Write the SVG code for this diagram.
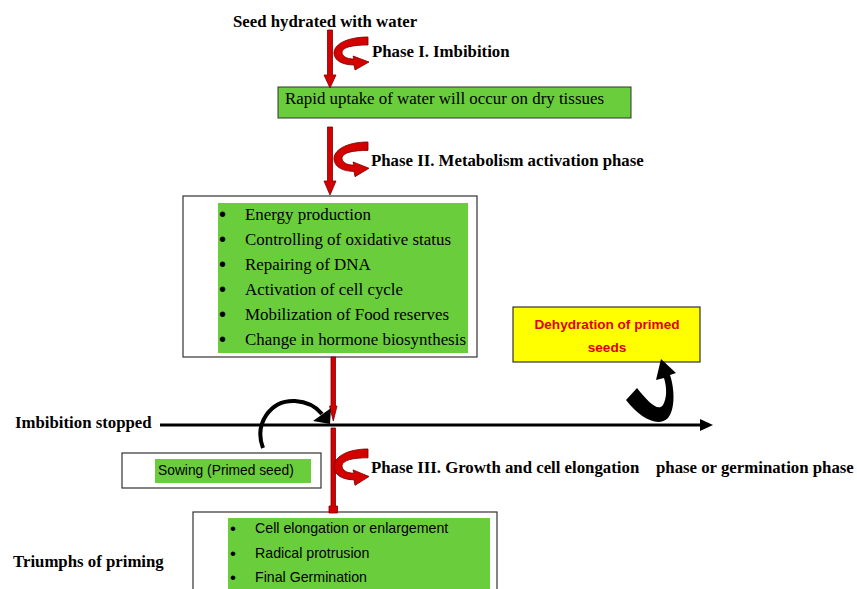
<svg xmlns="http://www.w3.org/2000/svg" width="857" height="589" viewBox="0 0 857 589">
<style>
.serif{font-family:"Liberation Serif","Times New Roman",serif;fill:#000}
.b{font-weight:bold;font-size:16.8px}
.r{font-size:16.9px}
.sans{font-family:"Liberation Sans",Arial,sans-serif;fill:#000;font-size:14.2px}
.bul{font-family:"Liberation Sans",Arial,sans-serif;fill:#000;font-size:20px}
.green{fill:#6acd3c}
.gbox{fill:#6acd3c;stroke:#333;stroke-width:1}
.wbox{fill:#fff;stroke:#333;stroke-width:1.2}
.red{fill:#d40000;stroke:#7a0000;stroke-width:0.8}
.dtxt{font-family:"Liberation Sans",Arial,sans-serif;font-weight:bold;font-size:13.6px;fill:#e00000}
</style>
<defs>
<path id="curv" d="M0,0 C-22,0 -35,8 -34,17 C-33,24 -25,28 -14,28 L-13,33 L1,25 L-15,19 L-14,22 C-22,22 -26,19 -26,15 C-25,10 -15,8 0,8 Z"/>
</defs>

<rect width="857" height="589" fill="#fff"/>

<g id="title">
<text class="serif b" x="233" y="27">Seed hydrated with water</text>
</g>

<g id="phase1">
<text class="serif b" x="372" y="57">Phase I. Imbibition</text>
</g>

<g id="box1">
<rect class="gbox" x="278" y="87" width="353" height="31"/>
<text class="serif r" x="285" y="104">Rapid uptake of water will occur on dry tissues</text>
</g>

<g id="phase2">
<text class="serif b" x="371" y="166">Phase II. Metabolism activation phase</text>
</g>

<g id="box2">
<rect class="wbox" x="183" y="196" width="294" height="161"/>
<rect class="green" x="218" y="203" width="250" height="150"/>
<g class="bul">
<text x="219" y="221">•</text>
<text x="219" y="246">•</text>
<text x="219" y="271">•</text>
<text x="219" y="296">•</text>
<text x="219" y="321">•</text>
<text x="219" y="346">•</text>
</g>
<g class="serif r">
<text x="245" y="220">Energy production</text>
<text x="245" y="245">Controlling of oxidative status</text>
<text x="245" y="270">Repairing of DNA</text>
<text x="245" y="295">Activation of cell cycle</text>
<text x="245" y="320">Mobilization of Food reserves</text>
<text x="245" y="345">Change in hormone biosynthesis</text>
</g>
</g>

<g id="dehydration">
<rect x="513" y="307" width="187" height="55" fill="#ffff00" stroke="#333" stroke-width="1.2"/>
<text class="dtxt" x="607" y="329" text-anchor="middle">Dehydration of primed</text>
<text class="dtxt" x="607" y="352" text-anchor="middle">seeds</text>
</g>

<g id="imbibition-stopped">
<text class="serif b" x="15" y="428">Imbibition stopped</text>
</g>

<g id="sowing">
<rect class="wbox" x="122" y="453" width="199" height="35"/>
<rect class="green" x="155" y="459" width="156" height="24"/>
<text class="sans" style="font-size:13.8px" x="158" y="475">Sowing (Primed seed)</text>
</g>

<g id="phase3">
<text class="serif b" x="371" y="473">Phase III. Growth and cell elongation</text>
<text class="serif b" x="656" y="473">phase or germination phase</text>
</g>

<g id="triumphs">
<text class="serif b" x="13" y="567">Triumphs of priming</text>
</g>

<g id="box3">
<rect class="wbox" x="193" y="512" width="304" height="80"/>
<rect class="green" x="228" y="518" width="262" height="74"/>
<g class="bul" style="font-size:17px">
<text x="230" y="534">•</text>
<text x="230" y="559">•</text>
<text x="230" y="583">•</text>
</g>
<g class="sans">
<text x="255" y="533">Cell elongation or enlargement</text>
<text x="255" y="558">Radical protrusion</text>
<text x="255" y="582">Final Germination</text>
</g>
</g>

<g id="connectors">
<path class="red" d="M327.5,30 L332.5,30 L332.5,75 L336,75 L330,88 L324,75 L327.5,75 Z"/>
<use href="#curv" class="red" transform="translate(368,37)"/>
<path class="red" d="M327.5,127 L332.5,127 L332.5,181 L336,181 L330,195 L324,181 L327.5,181 Z"/>
<use href="#curv" class="red" transform="translate(368,142) scale(1,1.05)"/>
<path class="red" d="M331,357 L335.5,357 L335.5,406 L337,406 L333.3,421 L329.5,406 L331,406 Z"/>
<path class="red" d="M331,428 L335.5,428 L335.5,506 L337.5,506 L337.5,513 L329,513 L329,506 L331,506 Z"/>
<use href="#curv" class="red" transform="translate(368,449) scale(1,1.1)"/>
<line x1="160" y1="425" x2="702" y2="425" stroke="#000" stroke-width="3"/>
<path d="M700,419 L713,425 L700,431 Z" fill="#000"/>
<path d="M263,448 C254,424 270,400 295,401 C310,402 318,409 322,414" fill="none" stroke="#000" stroke-width="4"/>
<path d="M313,421 L331,408 L330,424 Z" fill="#000"/>
<path d="M626,400 L637,388 C648,402 658,412 663,405 C667,398 667,388 664,378 L656,380 L661,359 L676,373 L670,375 C675,390 675,410 668,418 C658,428 640,418 626,400 Z" fill="#000"/>
</g>
</svg>
